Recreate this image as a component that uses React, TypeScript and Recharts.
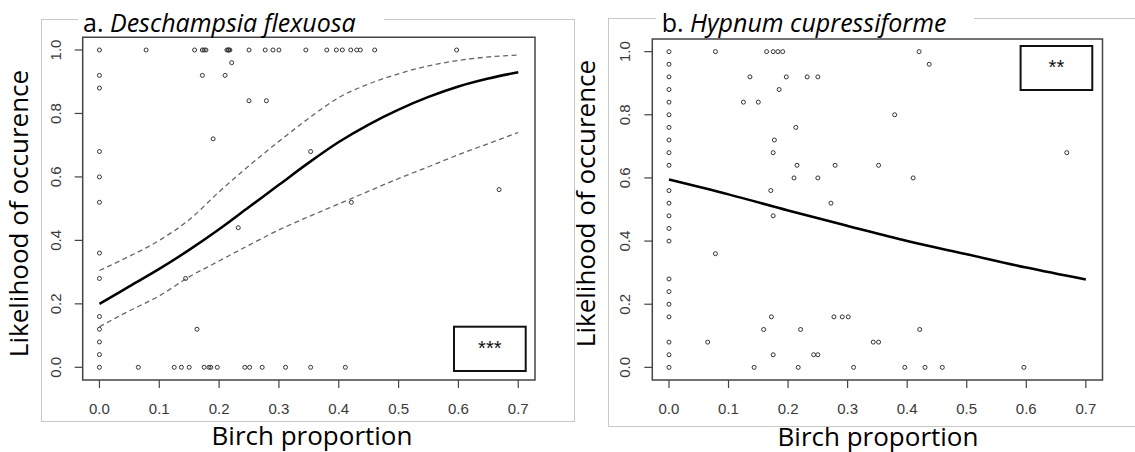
import { ComposedChart, Scatter, Line, XAxis, YAxis, ReferenceArea } from 'recharts';

// shared axis setup (R style: 4% padding around the data range)
const xTicks = [0, 0.1, 0.2, 0.3, 0.4, 0.5, 0.6, 0.7];
const yTicks = [0, 0.2, 0.4, 0.6, 0.8, 1.0];
const xDomain = [-0.028, 0.728];
const yDomain = [-0.04, 1.04];

// a. Deschampsia flexuosa - fitted curve and confidence band
const aFitX = [0, 0.05, 0.1, 0.15, 0.2, 0.25, 0.3, 0.35, 0.4, 0.45, 0.5, 0.55, 0.6, 0.65, 0.7];
const aFit = [0.2, 0.255, 0.31, 0.37, 0.435, 0.505, 0.575, 0.645, 0.71, 0.765, 0.812, 0.852, 0.885, 0.91, 0.93];
const aUpper = [0.305, 0.35, 0.4, 0.465, 0.553, 0.635, 0.712, 0.785, 0.85, 0.893, 0.925, 0.95, 0.967, 0.978, 0.984];
const aLower = [0.128, 0.178, 0.225, 0.285, 0.335, 0.385, 0.433, 0.475, 0.515, 0.555, 0.595, 0.632, 0.67, 0.705, 0.74];

// a. observations
const aPointX = [
  0, 0.078, 0.159, 0.172, 0.175, 0.178, 0.213, 0.215, 0.216, 0.218, 0.25, 0.277, 0.29, 0.3, 0.345, 0.38, 0.396, 0.406, 0.42, 0.43, 0.436, 0.46, 0.597,
  0.221,
  0, 0.172, 0.21,
  0,
  0.25, 0.279,
  0.19,
  0, 0.353,
  0,
  0.668,
  0, 0.421,
  0.232,
  0,
  0, 0.144,
  0,
  0, 0.163,
  0,
  0,
  0, 0.065, 0.125, 0.137, 0.15, 0.175, 0.183, 0.186, 0.197, 0.243, 0.251, 0.272, 0.311, 0.353, 0.411,
];
const aPointY = [
  1, 1, 1, 1, 1, 1, 1, 1, 1, 1, 1, 1, 1, 1, 1, 1, 1, 1, 1, 1, 1, 1, 1,
  0.96,
  0.92, 0.92, 0.92,
  0.88,
  0.84, 0.84,
  0.72,
  0.68, 0.68,
  0.6,
  0.56,
  0.52, 0.52,
  0.44,
  0.36,
  0.28, 0.28,
  0.16,
  0.12, 0.12,
  0.08,
  0.04,
  0, 0, 0, 0, 0, 0, 0, 0, 0, 0, 0, 0, 0, 0, 0,
];

// b. Hypnum cupressiforme - fitted curve
const bFitX = [0, 0.1, 0.2, 0.3, 0.4, 0.5, 0.6, 0.7];
const bFit = [0.595, 0.548, 0.497, 0.448, 0.4, 0.358, 0.316, 0.278];

// b. observations
const bPointX = [
  0, 0.078, 0.164, 0.175, 0.183, 0.191, 0.42,
  0, 0.437,
  0, 0.136, 0.197, 0.232, 0.25,
  0, 0.185,
  0, 0.125, 0.15,
  0, 0.379,
  0, 0.213,
  0, 0.177,
  0, 0.175, 0.668,
  0, 0.215, 0.279, 0.352,
  0.21, 0.25, 0.41,
  0, 0.171,
  0, 0.272,
  0, 0.175,
  0,
  0,
  0.078,
  0,
  0,
  0,
  0, 0.172, 0.277, 0.291, 0.301,
  0.159, 0.221, 0.421,
  0, 0.065, 0.343, 0.352,
  0, 0.175, 0.243, 0.25,
  0, 0.143, 0.217, 0.31, 0.396, 0.43, 0.459, 0.596,
];
const bPointY = [
  1, 1, 1, 1, 1, 1, 1,
  0.96, 0.96,
  0.92, 0.92, 0.92, 0.92, 0.92,
  0.88, 0.88,
  0.84, 0.84, 0.84,
  0.8, 0.8,
  0.76, 0.76,
  0.72, 0.72,
  0.68, 0.68, 0.68,
  0.64, 0.64, 0.64, 0.64,
  0.6, 0.6, 0.6,
  0.56, 0.56,
  0.52, 0.52,
  0.48, 0.48,
  0.44,
  0.4,
  0.36,
  0.28,
  0.24,
  0.2,
  0.16, 0.16, 0.16, 0.16, 0.16,
  0.12, 0.12, 0.12,
  0.08, 0.08, 0.08, 0.08,
  0.04, 0.04, 0.04, 0.04,
  0, 0, 0, 0, 0, 0, 0, 0,
];

const toPairs = (xs: number[], ys: number[]) => xs.map((x, i) => ({ x, y: ys[i] }));

const tickFont = '"Liberation Sans", Arial, sans-serif';
const labelFont = '"Open Sans", sans-serif';

const OpenCircle = (props: any) => (
  <circle cx={props.cx} cy={props.cy} r={2} fill="none" stroke="#333" strokeWidth={1} />
);

const RotatedTick = (props: any) => {
  const { x, y, payload } = props;
  return (
    <text
      x={x}
      y={y}
      transform={`rotate(-90, ${x}, ${y})`}
      textAnchor="middle"
      fontFamily={tickFont}
      fontSize={15}
      fill="#3a3a3a"
    >
      {payload.value.toFixed(1)}
    </text>
  );
};

interface PanelProps {
  left: number;
  margin: { top: number; right: number; bottom: number; left: number };
  points: { x: number; y: number }[];
  curves: { data: { x: number; y: number }[]; dashed: boolean }[];
}

function Panel({ left, margin, points, curves }: PanelProps) {
  return (
    <div style={{ position: 'absolute', left, top: 0 }}>
      <ComposedChart width={570} height={452} margin={margin}>
        <XAxis
          dataKey="x"
          type="number"
          domain={xDomain}
          allowDataOverflow
          ticks={xTicks}
          tickFormatter={(v: number) => v.toFixed(1)}
          axisLine={false}
          tickLine={{ stroke: '#444', strokeWidth: 1.2 }}
          tickSize={8}
          tickMargin={15}
          height={40}
          tick={{ fontFamily: tickFont, fontSize: 15, fill: '#3a3a3a' }}
        />
        <YAxis
          type="number"
          domain={yDomain}
          allowDataOverflow
          ticks={yTicks}
          axisLine={false}
          tickLine={{ stroke: '#444', strokeWidth: 1.2 }}
          tickSize={8}
          tickMargin={14}
          width={50}
          tick={<RotatedTick />}
        />
        <ReferenceArea
          x1={xDomain[0]}
          x2={xDomain[1]}
          y1={yDomain[0]}
          y2={yDomain[1]}
          fill="none"
          fillOpacity={0}
          stroke="#444"
          strokeWidth={1.5}
          ifOverflow="visible"
        />
        <Scatter data={points} dataKey="y" shape={<OpenCircle />} isAnimationActive={false} />
        {curves.map((c, i) => (
          <Line
            key={i}
            data={c.data}
            dataKey="y"
            type="monotone"
            dot={false}
            stroke={c.dashed ? '#666' : '#000'}
            strokeWidth={c.dashed ? 1.3 : 2.5}
            strokeDasharray={c.dashed ? '5 3.5' : undefined}
            isAnimationActive={false}
          />
        ))}
      </ComposedChart>
    </div>
  );
}

export default function App() {
  const aPoints = toPairs(aPointX, aPointY);
  const bPoints = toPairs(bPointX, bPointY);
  return (
    <div style={{ position: 'absolute', left: 0, top: 0, width: 1135, height: 452, background: '#fff', overflow: 'hidden' }}>
      <div style={{ position: 'absolute', left: 41, top: 19, width: 534, height: 403, border: '1px solid #c8c8c8', boxSizing: 'border-box' }} />
      <div style={{ position: 'absolute', left: 608, top: 18, width: 540, height: 409, border: '1px solid #c8c8c8', boxSizing: 'border-box' }} />
      <Panel
        left={0}
        margin={{ top: 37.3, right: 35, bottom: 32, left: 32.7 }}
        points={aPoints}
        curves={[
          { data: toPairs(aFitX, aUpper), dashed: true },
          { data: toPairs(aFitX, aLower), dashed: true },
          { data: toPairs(aFitX, aFit), dashed: false },
        ]}
      />
      <Panel
        left={565}
        margin={{ top: 39, right: 32.5, bottom: 32, left: 37.3 }}
        points={bPoints}
        curves={[{ data: toPairs(bFitX, bFit), dashed: false }]}
      />
      <svg width={1135} height={452} style={{ position: 'absolute', left: 0, top: 0, pointerEvents: 'none' }}>
        <rect x={78} y={8} width={306} height={28} fill="#fff" />
        <text x={83} y={31.7} fontFamily={labelFont} fontSize={25} fill="#000">
          a. <tspan fontStyle="italic">Deschampsia flexuosa</tspan>
        </text>
        <rect x={656} y={8} width={318} height={29} fill="#fff" />
        <text x={661.7} y={32.3} fontFamily={labelFont} fontSize={25} fill="#000">
          b. <tspan fontStyle="italic">Hypnum cupressiforme</tspan>
        </text>
        <text x={28.3} y={213.5} transform="rotate(-90, 28.3, 213.5)" textAnchor="middle" fontFamily={labelFont} fontSize={26} fill="#000">
          Likelihood of occurence
        </text>
        <text x={595} y={203.5} transform="rotate(-90, 595, 203.5)" textAnchor="middle" fontFamily={labelFont} fontSize={26} fill="#000">
          Likelihood of occurence
        </text>
        <text x={312} y={445} textAnchor="middle" fontFamily={labelFont} fontSize={26} fill="#000">
          Birch proportion
        </text>
        <text x={878} y={445.5} textAnchor="middle" fontFamily={labelFont} fontSize={26} fill="#000">
          Birch proportion
        </text>
        <rect x={454} y={326.7} width={71.7} height={44.3} fill="#fff" stroke="#111" strokeWidth={2} />
        <text x={489.8} y={355} textAnchor="middle" fontFamily={tickFont} fontSize={20} fill="#111">***</text>
        <rect x={1020.6} y={46} width={71.7} height={44} fill="#fff" stroke="#111" strokeWidth={2} />
        <text x={1056.4} y={74.3} textAnchor="middle" fontFamily={tickFont} fontSize={20} fill="#111">**</text>
      </svg>
    </div>
  );
}
